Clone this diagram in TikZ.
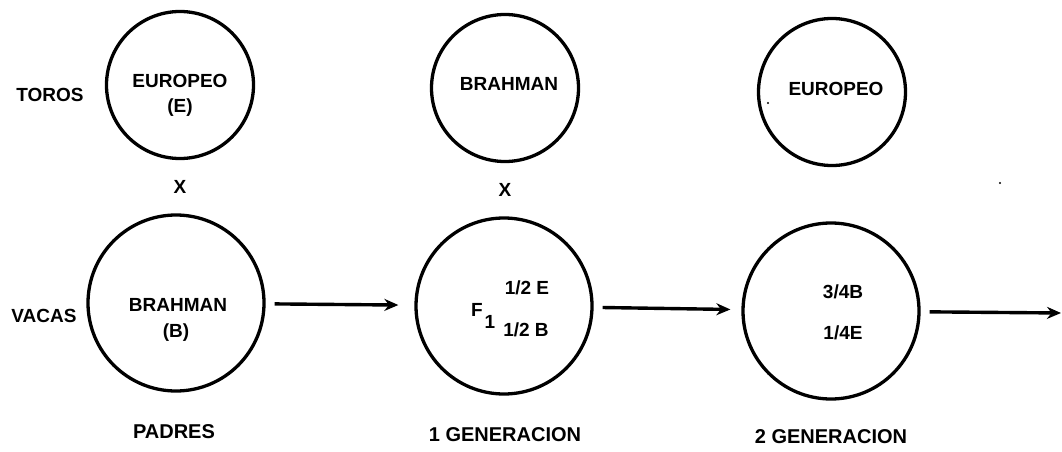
\documentclass[tikz,border=0pt]{standalone}
\usepackage{fontspec}
\setmainfont{Liberation Sans}
\usetikzlibrary{arrows.meta}
\tikzset{
  circtop/.style={circle, draw, line width=3.3pt, minimum size=147pt, inner sep=0pt},
  circbot/.style={circle, draw, line width=3.3pt, minimum size=176pt, inner sep=0pt},
  txt/.style={font=\fontsize{19}{19}\selectfont\bfseries, inner sep=0pt},
  lbl/.style={font=\fontsize{20}{20}\selectfont\bfseries, inner sep=0pt},
  flow/.style={line width=3.4pt, -{Stealth[length=14pt,width=12pt]}},
  speck/.style={fill, circle, inner sep=0pt, minimum size=2.4pt},
}
\begin{document}
\begin{tikzpicture}[x=1pt,y=-1pt]
\useasboundingbox (0,0) rectangle (1062,452);
% top row (toros)
\node[circtop] (t1) at (180,85) {};
\node[circtop] (t2) at (505,88) {};
\node[circtop] (t3) at (832,92) {};
% bottom row (vacas)
\node[circbot] (b1) at (176,303) {};
\node[circbot] (b2) at (504,306) {};
\node[circbot] (b3) at (831,311) {};
\coordinate (out) at (1062,313);
% side labels
\node[txt] (toros) at (50,95) {TOROS};
\node[txt] (vacas) at (44,316) {VACAS};
% texts in top circles
\node[txt] (t1a) at (180,81) {EUROPEO};
\node[txt] (t1b) at (180,108) {(E)};
\node[txt] (t2a) at (509,84) {BRAHMAN};
\node[txt] (t3a) at (836,89) {EUROPEO};
% crosses
\node[txt] (x1) at (180,187) {X};
\node[txt] (x2) at (505,190) {X};
% texts in bottom circles
\node[txt] (b1a) at (178,305) {BRAHMAN};
\node[txt] (b1b) at (176,333) {(B)};
\node[txt] (f) at (477,310) {F};
\node[txt] (fsub) at (490,322) {1};
\node[txt] (b2a) at (527,288) {1/2 E};
\node[txt] (b2b) at (526,330) {1/2 B};
\node[txt] (b3a) at (843,292) {3/4B};
\node[txt] (b3b) at (843,333) {1/4E};
% generation labels
\node[lbl] (l1) at (174,432) {PADRES};
\node[lbl] (l2) at (505,435) {1 GENERACION};
\node[lbl] (l3) at (831,437) {2 GENERACION};
% arrows
\draw[flow, shorten <=9pt, shorten >=16pt] (b1) -- (b2);
\draw[flow, shorten <=9pt, shorten >=11pt] (b2) -- (b3);
\draw[flow, shorten <=9pt, shorten >=1pt] (b3) -- (out);
% specks in the scan
\node[speck] (s1) at (768,103) {};
\node[speck] (s2) at (1000,183) {};
\end{tikzpicture}
\end{document}
